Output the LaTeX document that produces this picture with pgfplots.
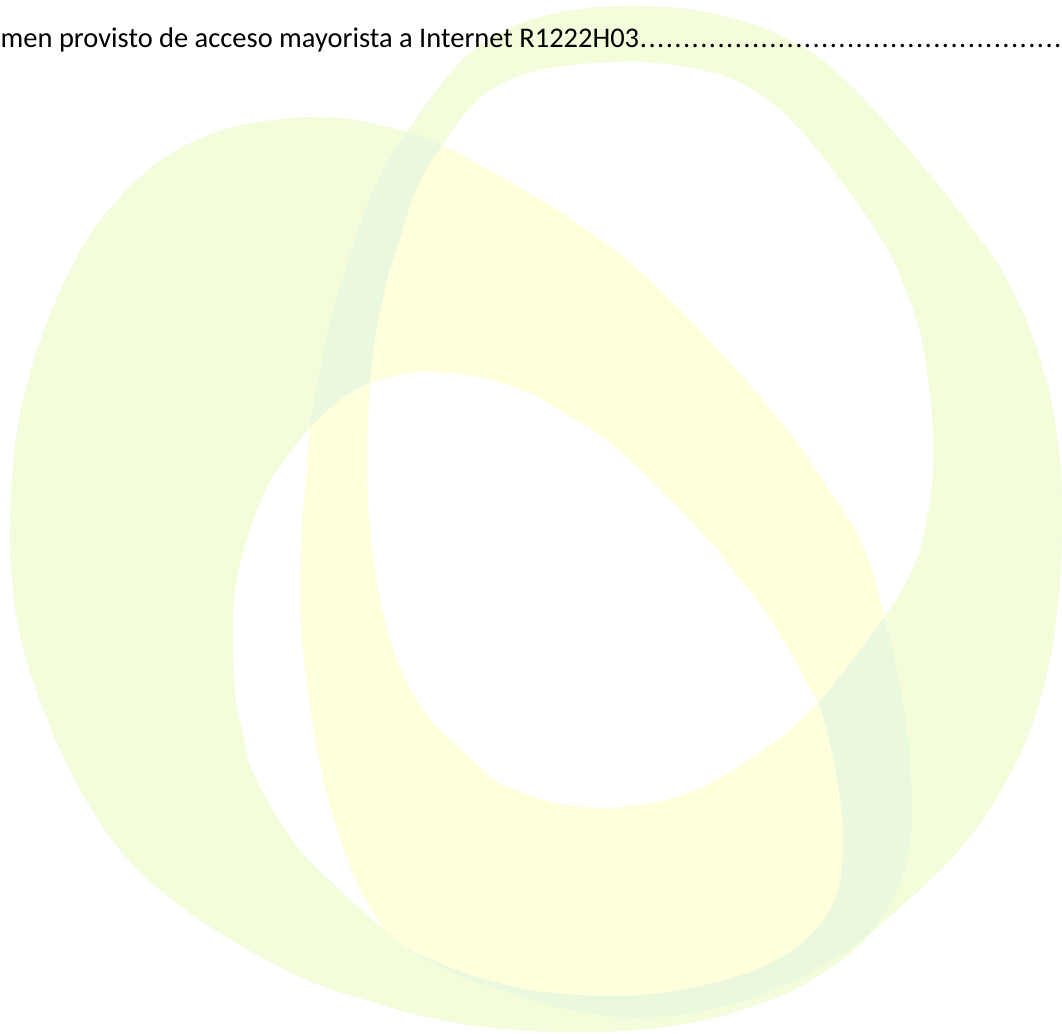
\documentclass[border=0pt]{standalone}
\usepackage{pgfplots}
\usepackage{pgfplotstable}
\pgfplotsset{compat=1.18}
\usepackage{fontspec}
\setmainfont{Carlito}
\definecolor{ringG}{RGB}{243,253,219}
\definecolor{ringY}{RGB}{255,255,219}
\definecolor{ringD}{RGB}{234,248,221}

% outer edge of ring A (left egg)
\pgfplotstableread{
x y
320 117
360 121
407 132
443 145
480 165
520 188
560 212
595 236
627 260
660 290
693 323
727 360
760 397
795 440
827 487
855 530
872 570
884 617
895 660
904 710
910 760
912 820
906 865
890 905
862 942
825 972
780 996
725 1015
665 1027
600 1032
535 1031
470 1025
410 1013
367 1000
333 990
300 977
267 960
235 942
200 920
170 898
140 872
110 837
82 793
58 745
40 700
28 665
18 625
13 590
10 547
11 497
15 447
22 405
33 363
48 320
67 277
93 230
127 190
162 159
197 140
233 127
275 120
}\Ao

% inner edge (hole) of ring A
\pgfplotstableread{
x y
370 383
400 375
430 372
480 377
530 393
560 410
595 432
627 457
660 489
693 523
720 553
743 583
762 607
777 630
797 664
818 703
829 740
837 780
842 818
843 850
838 890
822 922
795 948
755 970
700 986
640 995
580 995
530 990
500 983
465 973
433 960
407 947
373 920
340 890
300 850
267 800
250 765
243 733
236 700
233 650
234 600
240 565
250 530
267 487
290 453
310 428
340 400
}\Ai

% outer edge of ring B (right tall ring)
\pgfplotstableread{
x y
640 6
700 11
760 27
815 55
860 95
907 148
958 210
1000 268
1030 330
1050 395
1060 460
1062 520
1060 580
1053 643
1040 700
1022 750
1000 792
975 830
945 865
905 903
855 945
800 978
740 1002
680 1015
620 1017
560 1008
500 990
465 978
433 963
407 947
387 933
357 883
333 817
317 750
307 683
302 640
300 600
301 555
303 513
310 428
320 370
330 320
342 280
355 240
370 197
388 161
407 132
421 111
438 89
461 61
490 38
530 20
580 9
}\Bo

% inner edge (hole) of ring B
\pgfplotstableread{
x y
640 62
692 68
737 81
777 107
813 145
860 207
893 260
920 333
932 417
932 483
920 550
900 593
884 617
850 663
818 703
790 730
760 752
720 778
680 796
640 805
597 808
550 802
500 783
467 755
433 723
407 683
392 645
380 600
372 550
368 500
367 450
368 420
370 383
375 340
383 300
390 270
400 240
412 200
427 168
443 145
460 120
480 98
505 82
535 71
580 64
}\Bi

% ring A inside the hole of ring B (corner points doubled)
\pgfplotstableread{
x y
443 145
443 145
480 165
520 188
560 212
595 236
627 260
660 290
693 323
727 360
760 397
795 440
827 487
855 530
872 570
884 617
884 617
850 663
818 703
818 703
797 664
777 630
762 607
743 583
720 553
693 523
660 489
627 457
595 432
560 410
530 393
480 377
430 372
400 375
370 383
370 383
375 340
383 300
390 270
400 240
412 200
427 168
}\Ya

% ring B inside the hole of ring A (corner points doubled)
\pgfplotstableread{
x y
310 428
310 428
303 513
301 555
300 600
302 640
307 683
317 750
333 817
357 883
387 933
407 947
407 947
433 960
465 973
500 983
530 990
580 995
640 995
700 986
755 970
795 948
822 922
838 890
843 850
842 818
837 780
829 740
818 703
818 703
790 730
760 752
720 778
680 796
640 805
597 808
550 802
500 783
467 755
433 723
407 683
392 645
380 600
372 550
368 500
367 450
368 420
370 383
370 383
340 400
}\Yb

\pgfplotstableread{
x y
nan nan
}\NanRow

\pgfplotstablevertcat{\AoBo}{\Ao}
\pgfplotstablevertcat{\AoBo}{\NanRow}
\pgfplotstablevertcat{\AoBo}{\Bo}

\begin{document}
\begin{tikzpicture}
\begin{axis}[
  width=106.2mm, height=103.4mm, scale only axis,
  xmin=0, xmax=1062, ymin=0, ymax=1034, y dir=reverse,
  axis line style={draw=none}, ticks=none,
  unbounded coords=jump,
]
\addplot[draw=none, fill=ringD, smooth cycle] table {\Ao};
\addplot[draw=none, fill=ringD, smooth cycle] table {\Bo};
\addplot[draw=none, fill=ringG, even odd rule, smooth cycle] table {\AoBo};
\addplot[draw=none, fill=white, smooth cycle] table {\Ai};
\addplot[draw=none, fill=white, smooth cycle] table {\Bi};
\addplot[draw=none, fill=ringY, smooth cycle] table {\Ya};
\addplot[draw=none, fill=ringY, smooth cycle] table {\Yb};
\node[anchor=base west, inner sep=0pt, font=\fontsize{8.1}{9}\selectfont]
  at (axis cs:0,48)
  {\makebox[106.2mm][l]{men provisto de acceso mayorista a Internet R1222H03\xleaders\hbox to 2.45pt{\hss.\hss}\hfill}};
\end{axis}
\end{tikzpicture}
\end{document}
